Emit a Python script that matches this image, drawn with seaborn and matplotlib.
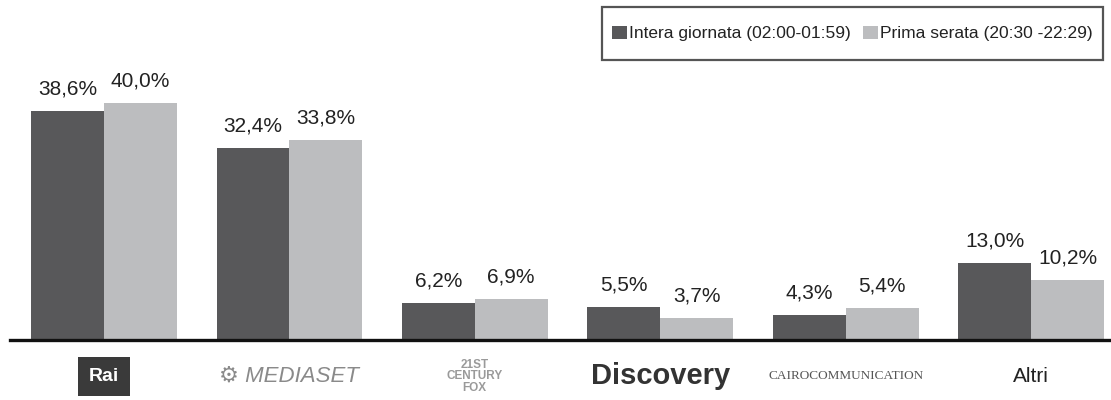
import matplotlib
matplotlib.use('Agg')
import matplotlib.pyplot as plt
import seaborn as sns
import pandas as pd
from matplotlib.patches import Rectangle

# data
groups = ['Rai', '⚙ MEDIASET', '21ST\nCENTURY\nFOX', 'Discovery', 'CAIROCOMMUNICATION', 'Altri']
series = ['Intera giornata (02:00-01:59)', 'Prima serata (20:30 -22:29)']
intera = [38.6, 32.4, 6.2, 5.5, 4.3, 13.0]
prima = [40.0, 33.8, 6.9, 3.7, 5.4, 10.2]
colors = ['#58585a', '#bcbdbf']

df = pd.DataFrame({
    'gruppo': groups * 2,
    'serie': [series[0]] * len(groups) + [series[1]] * len(groups),
    'share': intera + prima,
})

sns.set_style('white')
plt.rcParams['font.family'] = ['Liberation Sans', 'DejaVu Sans']

fig = plt.figure(figsize=(11.11, 4.0), dpi=100)
ax = fig.add_axes([10 / 1111, 0.15, 1 - 10 / 1111, 0.70])

sns.barplot(data=df, x='gruppo', y='share', hue='serie', palette=colors,
            width=0.785, saturation=1, linewidth=0, ax=ax, legend=True)

for cont in ax.containers:
    ax.bar_label(cont, labels=[f'{v:.1f}%'.replace('.', ',') for v in cont.datavalues],
                 padding=9, fontsize=15, color='#222222')

ax.set_ylim(0, 280 / 5.92)
ax.set_xlim(-0.506, 5.43)
ax.set_xlabel('')
ax.set_ylabel('')
ax.set_yticks([])
for s in ['top', 'left', 'right']:
    ax.spines[s].set_visible(False)
ax.spines['bottom'].set_color('#111111')
ax.spines['bottom'].set_linewidth(2.4)
ax.tick_params(axis='x', length=0, pad=26)

# tick labels styled loosely after the logos
ax.set_xticks(range(len(groups)))
ax.set_xticklabels(groups)
tl = ax.get_xticklabels()
for t in tl:
    t.set_verticalalignment('center')
tl[0].set_fontweight('bold'); tl[0].set_color('white'); tl[0].set_fontsize(14)
tl[0].set_bbox(dict(facecolor='#3a3a3a', edgecolor='none', pad=8))
tl[1].set_fontstyle('italic'); tl[1].set_color('#8a8a8a'); tl[1].set_fontsize(16)
tl[2].set_fontsize(8.5); tl[2].set_color('#9a9a9a'); tl[2].set_fontweight('bold')
tl[2].set_linespacing(0.95)
tl[3].set_fontsize(21); tl[3].set_color('#333333'); tl[3].set_fontweight('bold')
tl[4].set_fontsize(9.5); tl[4].set_color('#555555'); tl[4].set_family('Liberation Serif')
tl[5].set_fontsize(15); tl[5].set_color('#222222')

ax.get_legend().remove()
handles, labels = ax.get_legend_handles_labels()
leg = fig.legend(handles, labels, loc='center',
                 bbox_to_anchor=(852.5 / 1111, 1 - 33.5 / 400),
                 ncol=2, fontsize=12.5, frameon=False,
                 handlelength=0.85, handleheight=0.85, handletextpad=0.15,
                 columnspacing=0.7, borderaxespad=0)
for t in leg.get_texts():
    t.set_color('#222222')
fig.patches.append(Rectangle((602 / 1111, 1 - 60 / 400), 501 / 1111, 53 / 400,
                             transform=fig.transFigure, fill=False,
                             edgecolor='#555555', linewidth=1.6))

fig.savefig('out.png', dpi=100)
